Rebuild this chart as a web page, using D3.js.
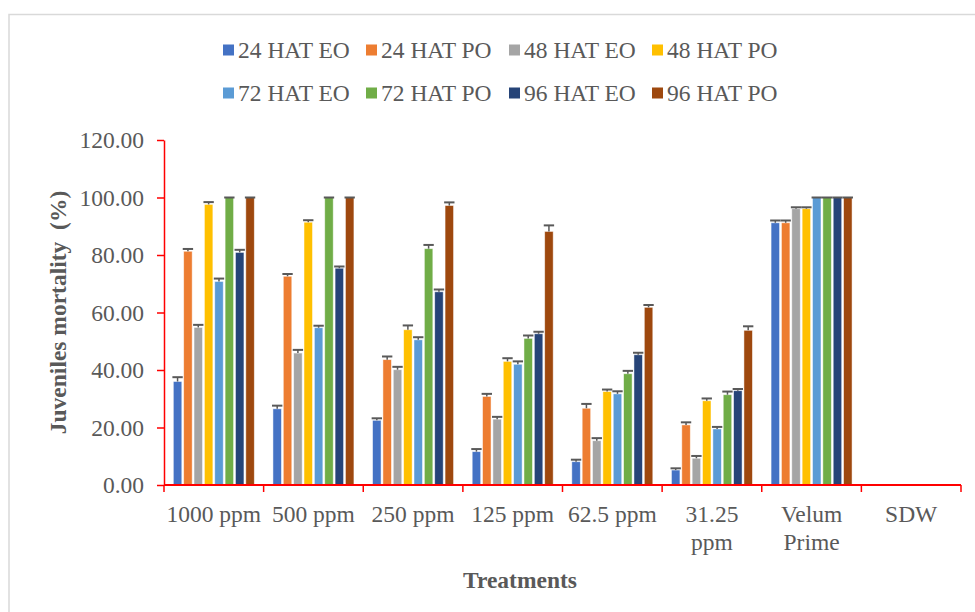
<!DOCTYPE html>
<html>
<head>
<meta charset="utf-8">
<script src="https://cdn.jsdelivr.net/npm/d3@7"></script>
<style>
  html, body { margin: 0; padding: 0; background: #fff; }
  svg { display: block; }
  text { font-family: "Liberation Serif", "Times New Roman", serif; fill: #595959; }
</style>
</head>
<body>
<svg id="chart" width="975" height="612"></svg>
<script>
// ---------- data ----------
const categories = ["1000 ppm", "500 ppm", "250 ppm", "125 ppm", "62.5 ppm", "31.25 ppm", "Velum Prime", "SDW"];
const seriesNames = ["24 HAT EO", "24 HAT PO", "48 HAT EO", "48 HAT PO", "72 HAT EO", "72 HAT PO", "96 HAT EO", "96 HAT PO"];
const seriesColors = ["#4472C4", "#ED7D31", "#A5A5A5", "#FFC000", "#5B9BD5", "#70AD47", "#264478", "#9E480E"];

const hat24EO = [36.0, 26.5, 22.5, 11.6, 8.1, 5.2, 91.2, 0];
const hat24PO = [81.3, 72.6, 43.6, 30.8, 26.7, 20.9, 91.2, 0];
const hat48EO = [54.8, 45.9, 40.1, 22.9, 15.4, 9.3, 96.1, 0];
const hat48PO = [97.6, 91.4, 54.0, 43.0, 32.5, 29.3, 96.1, 0];
const hat72EO = [70.8, 54.7, 50.5, 42.0, 31.7, 19.5, 100, 0];
const hat72PO = [100, 100, 82.2, 51.0, 38.7, 31.4, 100, 0];
const hat96EO = [80.9, 75.4, 67.2, 52.6, 45.3, 32.8, 100, 0];
const hat96PO = [100, 100, 97.2, 88.2, 61.8, 53.8, 100, 0];

const err24EO = [1.5, 1.1, 0.7, 0.9, 0.7, 0.6, 0.8, 0];
const err24PO = [0.8, 0.8, 1.1, 0.9, 1.5, 0.9, 0.8, 0];
const err48EO = [0.9, 1.1, 1.0, 0.8, 0.9, 0.8, 0.5, 0];
const err48PO = [0.8, 0.7, 1.5, 1.1, 0.7, 0.8, 0.5, 0];
const err72EO = [1.0, 0.7, 0.9, 1.0, 0.9, 0.7, 0, 0];
const err72PO = [0, 0, 1.3, 1.0, 1.0, 1.1, 0, 0];
const err96EO = [0.9, 0.6, 0.8, 0.7, 0.7, 0.6, 0, 0];
const err96PO = [0, 0, 1.1, 2.1, 0.8, 1.4, 0, 0];

const yTicks = [0, 20, 40, 60, 80, 100, 120];
const yTitle = "Juveniles mortality  (%)";
const xTitle = "Treatments";

const seriesValues = [hat24EO, hat24PO, hat48EO, hat48PO, hat72EO, hat72PO, hat96EO, hat96PO];
const seriesErrors = [err24EO, err24PO, err48EO, err48PO, err72EO, err72PO, err96EO, err96PO];

// ---------- layout ----------
const svg = d3.select("#chart");
const plot = { left: 164, right: 961, top: 140, bottom: 485 };
const axisColor = "#FF0000";
const errColor = "#595959";
const fontTick = 23.5;
const fontTitle = 23.5;
const fontLegend = 23.5;

// chart frame
svg.append("rect")
  .attr("x", 9).attr("y", 14.5).attr("width", 1100).attr("height", 800)
  .attr("fill", "none").attr("stroke", "#D9D9D9").attr("stroke-width", 1.5);

const x0 = d3.scaleBand().domain(categories).range([plot.left, plot.right]).padding(0);
const x1 = d3.scaleBand().domain(seriesNames).range([0, x0.bandwidth()])
  .paddingInner(0.18).paddingOuter(0.9);
const y = d3.scaleLinear().domain([0, 120]).range([plot.bottom, plot.top]);

const rows = [];
categories.forEach((c, ci) => {
  seriesNames.forEach((s, si) => {
    rows.push({ cat: c, series: s, color: seriesColors[si], value: seriesValues[si][ci], err: seriesErrors[si][ci] });
  });
});

// bars
const g = svg.append("g");
g.selectAll("rect.bar").data(rows).join("rect")
  .attr("class", "bar")
  .attr("x", d => x0(d.cat) + x1(d.series))
  .attr("y", d => y(d.value))
  .attr("width", x1.bandwidth())
  .attr("height", d => y(0) - y(d.value))
  .attr("fill", d => d.color)
  .attr("stroke", "#ffffff")
  .attr("stroke-opacity", 0.6)
  .attr("stroke-width", 0.8);

// error bars (plus direction)
const capHalf = x1.step() / 2;
const eb = svg.append("g").attr("stroke", errColor);
eb.selectAll("line.stem").data(rows.filter(d => d.value > 0)).join("line")
  .attr("class", "stem")
  .attr("x1", d => x0(d.cat) + x1(d.series) + x1.bandwidth() / 2)
  .attr("x2", d => x0(d.cat) + x1(d.series) + x1.bandwidth() / 2)
  .attr("y1", d => y(d.value))
  .attr("y2", d => y(d.value + d.err))
  .attr("stroke-width", 1.5);
eb.selectAll("line.cap").data(rows.filter(d => d.value > 0)).join("line")
  .attr("class", "cap")
  .attr("x1", d => x0(d.cat) + x1(d.series) + x1.bandwidth() / 2 - capHalf)
  .attr("x2", d => x0(d.cat) + x1(d.series) + x1.bandwidth() / 2 + capHalf)
  .attr("y1", d => y(d.value + d.err))
  .attr("y2", d => y(d.value + d.err))
  .attr("stroke-width", 2);

// y axis
const yAxis = svg.append("g")
  .attr("transform", `translate(${plot.left},0)`)
  .call(d3.axisLeft(y).tickValues(yTicks).tickFormat(d3.format(".2f")).tickSize(7).tickSizeOuter(0).tickPadding(13));
yAxis.select(".domain").attr("stroke", axisColor).attr("stroke-width", 1.5);
yAxis.selectAll(".tick line").attr("stroke", axisColor).attr("stroke-width", 1.5);
yAxis.selectAll(".tick text")
  .attr("font-size", fontTick).attr("fill", "#595959")
  .style("font-family", '"Liberation Serif", "Times New Roman", serif');

// x axis line + boundary ticks
const xAxisG = svg.append("g");
xAxisG.append("line")
  .attr("x1", plot.left).attr("x2", plot.right)
  .attr("y1", y(0)).attr("y2", y(0))
  .attr("stroke", axisColor).attr("stroke-width", 2);
const boundaries = categories.map(c => x0(c)).concat([x0(categories[categories.length - 1]) + x0.bandwidth()]);
xAxisG.selectAll("line.bt").data(boundaries).join("line")
  .attr("class", "bt")
  .attr("x1", d => d).attr("x2", d => d)
  .attr("y1", y(0)).attr("y2", y(0) + 7)
  .attr("stroke", axisColor).attr("stroke-width", 1.5);

// category labels (wrapped if wider than band, Excel-like)
const catG = svg.append("g");
categories.forEach(c => {
  const cx = x0(c) + x0.bandwidth() / 2;
  const t = catG.append("text")
    .attr("x", cx).attr("y", 522)
    .attr("text-anchor", "middle")
    .attr("font-size", fontTick)
    .text(c);
  if (t.node().getComputedTextLength() > x0.bandwidth() * 0.96) {
    const words = c.split(" ");
    t.text(null);
    words.forEach((w, i) => {
      t.append("tspan").attr("x", cx).attr("y", 522 + i * 28).text(w);
    });
  }
});

// axis titles
svg.append("text")
  .attr("x", 520).attr("y", 588)
  .attr("text-anchor", "middle")
  .attr("font-size", fontTitle).attr("font-weight", "bold")
  .text(xTitle);
svg.append("text")
  .attr("transform", `translate(66,${(plot.top + plot.bottom) / 2}) rotate(-90)`)
  .attr("text-anchor", "middle")
  .attr("font-size", fontTitle).attr("font-weight", "bold")
  .attr("xml:space", "preserve")
  .style("white-space", "pre")
  .text(yTitle);

// legend
const legCols = 4;
const legX = d3.scaleLinear().domain([0, 1]).range([223, 366]);
const legRowY = [50, 93];
const leg = svg.append("g");
seriesNames.forEach((s, i) => {
  const col = i % legCols, row = Math.floor(i / legCols);
  const lx = legX(col), ly = legRowY[row];
  leg.append("rect").attr("x", lx).attr("y", ly - 5.5).attr("width", 11).attr("height", 11).attr("fill", seriesColors[i]);
  leg.append("text").attr("x", lx + 15).attr("y", ly + 8).attr("font-size", fontLegend).text(s);
});
</script>
</body>
</html>
